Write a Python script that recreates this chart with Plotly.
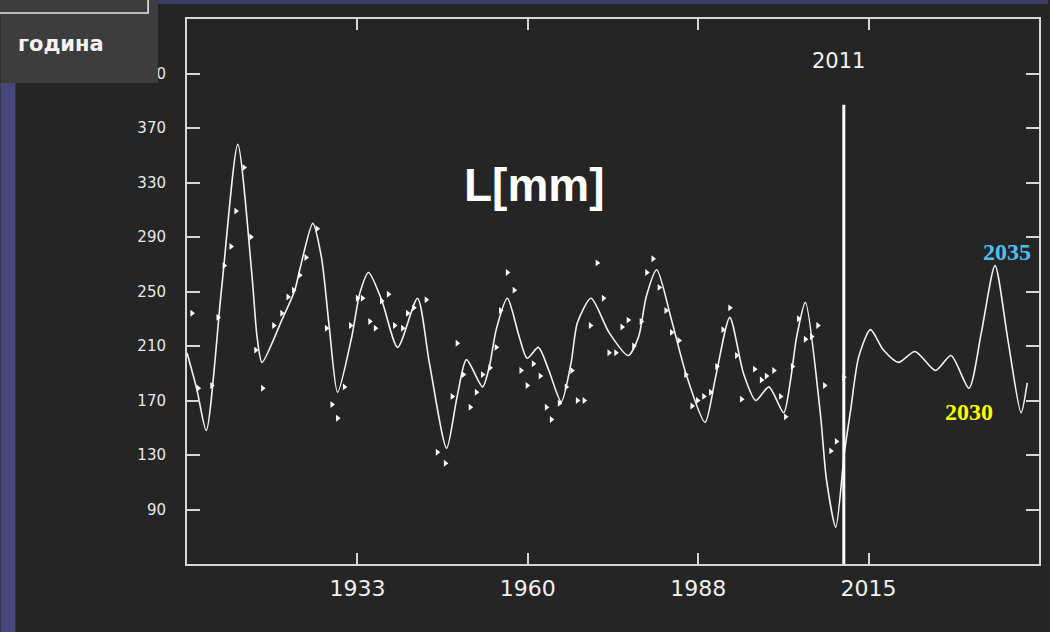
import plotly.graph_objects as go

# Smoothed model curve of annual L (mm), including the projection after 2011
curve_years = [1905.0, 1906.6, 1908.1, 1910.6, 1913.2, 1915.5, 1916.3, 1917.1, 1920.3, 1922.4,
               1923.2, 1925.3, 1926.7, 1928.0, 1929.3, 1931.6, 1932.9, 1934.3, 1936.4, 1939.0,
               1942.2, 1944.1, 1946.9, 1948.6, 1950.1, 1952.7, 1953.8, 1954.9, 1956.7, 1958.6,
               1959.9, 1961.7, 1963.4, 1965.4, 1967.0, 1968.0, 1970.2, 1973.1, 1976.2, 1977.9,
               1979.1, 1980.8, 1983.2, 1985.5, 1988.6, 1990.3, 1992.6, 1994.8, 1996.8, 1998.9,
               2001.3, 2002.4, 2003.4, 2004.8, 2007.2, 2008.2, 2009.7, 2011.1, 2012.1, 2013.4,
               2015.3, 2017.4, 2019.8, 2022.5, 2025.8, 2028.3, 2031.2, 2033.2, 2035.4, 2037.5,
               2039.6, 2040.6]
curve_vals = [205, 178, 148, 253, 358, 261, 217, 198, 229, 251,
              266, 300, 275, 222, 176, 217, 249, 264, 244, 209,
              245, 198, 135, 173, 200, 180, 195, 222, 245, 217,
              201, 209, 192, 169, 198, 227, 245, 220, 203, 217,
              246, 266, 229, 190, 154, 187, 231, 190, 170, 180,
              161, 185, 217, 242, 161, 112, 77, 132, 163, 202,
              222, 207, 198, 206, 192, 203, 179, 220, 269, 214,
              161, 183]

# Measured annual values
obs_years = [1905.8, 1906.8, 1909.0, 1910.0, 1911.0, 1912.1, 1912.9, 1914.2, 1915.3, 1916.1,
             1917.2, 1919.0, 1920.3, 1921.3, 1922.2, 1923.2, 1924.2, 1926.0, 1927.5, 1928.4,
             1929.3, 1930.4, 1931.4, 1932.5, 1933.3, 1934.5, 1935.4, 1936.4, 1937.5, 1938.5,
             1939.8, 1940.6, 1941.6, 1943.6, 1945.4, 1946.7, 1947.8, 1948.6, 1949.6, 1950.7,
             1951.7, 1952.7, 1953.9, 1954.9, 1955.6, 1956.7, 1957.8, 1958.9, 1959.9, 1960.9,
             1962.0, 1963.0, 1963.8, 1965.1, 1966.2, 1967.1, 1968.0, 1969.1, 1970.1, 1971.2,
             1972.2, 1973.1, 1974.2, 1975.2, 1976.2, 1977.1, 1978.3, 1979.2, 1980.2, 1981.2,
             1982.3, 1983.2, 1984.4, 1985.5, 1986.5, 1987.4, 1988.4, 1989.5, 1990.5, 1991.5,
             1992.6, 1993.7, 1994.5, 1996.6, 1997.7, 1998.5, 1999.7, 2000.8, 2001.6, 2002.7,
             2003.7, 2004.8, 2005.8, 2006.8, 2007.9, 2008.9, 2009.8, 2011.0]
obs_vals = [234, 179, 181, 231, 269, 283, 309, 341, 290, 207,
            179, 225, 234, 246, 251, 262, 275, 296, 223, 167,
            157, 180, 225, 245, 245, 228, 223, 243, 248, 225,
            223, 234, 238, 244, 132, 124, 173, 212, 189, 165,
            176, 189, 194, 209, 236, 264, 251, 192, 181, 197,
            188, 165, 156, 168, 180, 192, 170, 170, 225, 271,
            245, 205, 205, 224, 229, 210, 228, 264, 274, 253,
            236, 220, 214, 189, 166, 170, 173, 176, 195, 222,
            238, 203, 171, 193, 185, 188, 192, 173, 158, 195,
            230, 215, 217, 225, 181, 133, 140, 187]

y_ticks = [90, 130, 170, 210, 250, 290, 330, 370, 410]
x_ticks = [1932.5, 1960, 1987.5, 2015]
x_tick_text = ["1933", "1960", "1988", "2015"]

divider_year = 2011
divider_top = 387

BG = "#252525"
FRAME = "#d6d6d6"

# plot-area geometry in pixels, used for placing decorations in paper units
L, R, T, B = 187, 1041, 19, 564


def px(xp):
    return (xp - L) / (R - L)


def py(yp):
    return (B - yp) / (B - T)


fig = go.Figure()

fig.add_trace(go.Scatter(
    x=curve_years, y=curve_vals, mode="lines",
    line=dict(color="#f2f2f2", width=1.6, shape="spline", smoothing=0.7),
    hoverinfo="skip", showlegend=False,
))
fig.add_trace(go.Scatter(
    x=obs_years, y=obs_vals, mode="markers",
    marker=dict(symbol="triangle-right", size=6, color="#ffffff", line=dict(width=0)),
    showlegend=False,
))

shapes = [
    # 2011 divider
    dict(type="line", xref="x", yref="y", x0=divider_year, x1=divider_year,
         y0=50, y1=divider_top, line=dict(color="#ffffff", width=3), layer="above"),
    # slide background strips
    dict(type="rect", xref="paper", yref="paper", x0=px(0), x1=px(15), y0=py(632), y1=py(83),
         fillcolor="#47477a", line=dict(width=0), layer="above"),
    dict(type="rect", xref="paper", yref="paper", x0=px(158), x1=px(1050), y0=py(4), y1=py(0),
         fillcolor="#3c3d64", line=dict(width=0), layer="above"),
    # caption panel
    dict(type="rect", xref="paper", yref="paper", x0=px(0), x1=px(158), y0=py(83), y1=py(0),
         fillcolor="#3d3d3d", line=dict(width=0), layer="above"),
    dict(type="rect", xref="paper", yref="paper", x0=px(-4), x1=px(148), y0=py(13), y1=py(-6),
         fillcolor="#3d3d3d", line=dict(color="#e6e6e6", width=1.6), layer="above"),
]

center = dict(xanchor="center", yanchor="middle", showarrow=False)
annotations = [
    dict(text="година", xref="paper", yref="paper", x=px(61), y=py(44),
         font=dict(family="DejaVu Sans", size=21, color="#f4f4f4", weight="bold"), **center),
    dict(text="2011", xref="x", yref="paper", x=divider_year - 0.8, y=py(61),
         font=dict(family="DejaVu Sans", size=21, color="#f4f4f4"), **center),
    dict(text="L[mm]", xref="paper", yref="paper", x=px(535), y=py(185),
         font=dict(family="Liberation Sans", size=46, color="#ffffff", weight="bold"), **center),
    dict(text="2035", xref="x", yref="y", x=2035.4, y=269, xshift=12, yshift=14,
         font=dict(family="Liberation Serif", size=24, color="#4fc0ee", weight="bold"), **center),
    dict(text="2030", xref="x", yref="y", x=2031.2, y=179, yshift=-24,
         font=dict(family="Liberation Serif", size=24, color="#ffff00", weight="bold"), **center),
]

fig.update_layout(
    width=1050, height=632,
    margin=dict(l=L, r=1050 - R, t=T, b=632 - B),
    paper_bgcolor=BG, plot_bgcolor=BG,
    shapes=shapes, annotations=annotations,
    xaxis=dict(range=[1905, 2042.5], tickvals=x_ticks, ticktext=x_tick_text,
               showgrid=False, zeroline=False,
               showline=True, linecolor=FRAME, linewidth=2, mirror="ticks",
               ticks="inside", ticklen=11, tickwidth=1.5, tickcolor=FRAME,
               ticklabelstandoff=4,
               tickfont=dict(family="DejaVu Sans", size=22, color="#f0f0f0")),
    yaxis=dict(range=[50, 450], tickvals=y_ticks,
               showgrid=False, zeroline=False,
               showline=True, linecolor=FRAME, linewidth=2, mirror="ticks",
               ticks="inside", ticklen=13, tickwidth=1.5, tickcolor=FRAME,
               ticklabelstandoff=16,
               tickfont=dict(family="DejaVu Sans", size=15, color="#e8e8e8")),
)

fig.write_html("out.html")
